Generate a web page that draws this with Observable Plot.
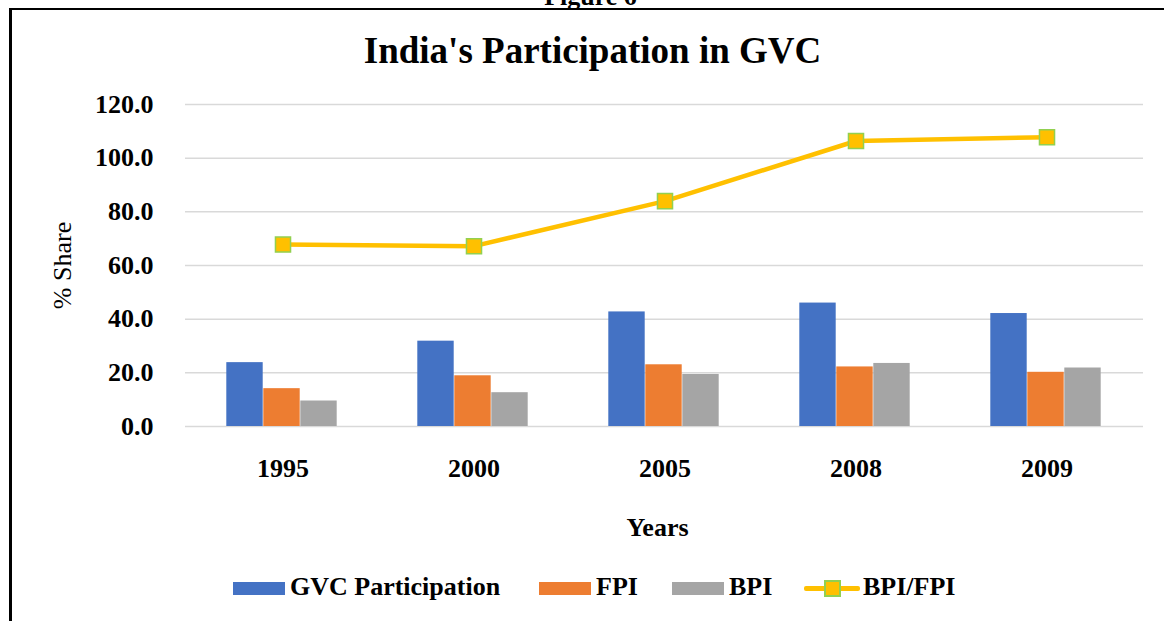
<!DOCTYPE html>
<html><head><meta charset="utf-8">
<script src="https://cdn.jsdelivr.net/npm/d3@7"></script>
<script src="https://cdn.jsdelivr.net/npm/@observablehq/plot@0.6"></script>
<style>
html,body{margin:0;padding:0;background:#fff;}
#wrap{position:relative;width:1164px;height:621px;overflow:hidden;font-family:"Liberation Serif","Times New Roman",serif;}
#chart{position:absolute;left:0;top:0;}
#frame{position:absolute;left:9px;top:8px;width:1200px;height:700px;border-left:3px solid #000;border-top:2px solid #000;pointer-events:none;}
.lg{position:absolute;font-size:26px;font-weight:bold;line-height:26px;white-space:nowrap;color:#000;}
.sw{position:absolute;}
</style></head><body>
<div id="wrap"><div id="chart"></div><div id="frame"></div><div id="legend"></div></div>
<script>
// ---- data ----
const years = ["1995", "2000", "2005", "2008", "2009"];
const gvcParticipation = [23.8, 31.8, 42.7, 46.0, 42.1];
const fpi = [14.1, 18.9, 23.0, 22.2, 20.2];
const bpi = [9.5, 12.6, 19.4, 23.5, 21.8];
const bpiFpi = [67.8, 67.2, 84.0, 106.4, 107.8];
const yTicks = [0, 20, 40, 60, 80, 100, 120];
const seriesNames = ["GVC Participation", "FPI", "BPI", "BPI/FPI"];
const seriesColors = ["#4472C4", "#ED7D31", "#A5A5A5", "#FFC000"];

const rows = years.map((y, i) => ({year: y, gvc: gvcParticipation[i], fpi: fpi[i], bpi: bpi[i], ratio: bpiFpi[i]}));

const W = 1164, H = 560, mL = 185, mR = 21, mT = 104, mB = 134;
const band = (W - mL - mR) / years.length;
const bw = 37;
const inset = (band - bw) / 2;

const chart = Plot.plot({
  width: W, height: H,
  marginLeft: mL, marginRight: mR, marginTop: mT, marginBottom: mB,
  style: {fontFamily: "'Liberation Serif','Times New Roman',serif", background: "transparent", color: "#000"},
  x: {type: "band", domain: years, padding: 0},
  y: {domain: [0, 120]},
  marks: [
    Plot.gridY(yTicks, {stroke: "#d9d9d9", strokeOpacity: 1, strokeWidth: 1.5}),
    Plot.barY(rows, {x: "year", y: "gvc", fill: seriesColors[0], insetLeft: inset, insetRight: inset, dx: -bw - 1}),
    Plot.barY(rows, {x: "year", y: "fpi", fill: seriesColors[1], insetLeft: inset, insetRight: inset, dx: -1}),
    Plot.barY(rows, {x: "year", y: "bpi", fill: seriesColors[2], insetLeft: inset, insetRight: inset, dx: bw - 1}),
    Plot.lineY(rows, {x: "year", y: "ratio", stroke: seriesColors[3], strokeWidth: 4.5}),
    Plot.dot(rows, {x: "year", y: "ratio", symbol: "square", r: 8.5, fill: seriesColors[3], stroke: "#92D050", strokeWidth: 1.5}),
    Plot.axisY(yTicks, {tickFormat: d3.format(".1f"), tickSize: 0, tickPadding: 32, fontSize: 26, fontWeight: "bold", label: null}),
    Plot.axisX({tickSize: 0, tickPadding: 32, fontSize: 26, fontWeight: "bold", label: null}),
    Plot.text(["India's Participation in GVC"], {frameAnchor: "top", lineAnchor: "bottom", dx: -72, dy: -42, fontSize: 37, fontWeight: "bold"}),
    Plot.text(["Figure 6"], {frameAnchor: "top", lineAnchor: "bottom", dx: -74, dy: -100, fontSize: 26, fontWeight: "bold"}),
    Plot.text(["Years"], {frameAnchor: "bottom", lineAnchor: "bottom", dx: -7, dy: 109, fontSize: 26, fontWeight: "bold"}),
    Plot.text(["% Share"], {frameAnchor: "left", textAnchor: "middle", lineAnchor: "bottom", rotate: -90, dx: -115, fontSize: 26, fontWeight: "normal"})
  ]
});
document.getElementById("chart").appendChild(chart);

// ---- legend ----
const lg = document.getElementById("legend");
const swatchX = [233, 539, 672];
const textX = [290, 596, 729, 863];
function add(html) { lg.insertAdjacentHTML("beforeend", html); }
for (let i = 0; i < 3; i++) {
  add(`<div class="sw" style="left:${swatchX[i]}px;top:582px;width:52px;height:13px;background:${seriesColors[i]}"></div>`);
}
add(`<div class="sw" style="left:804px;top:585.5px;width:56px;height:5px;background:${seriesColors[3]};border-radius:2px"></div>`);
add(`<div class="sw" style="left:824px;top:579.5px;width:13px;height:13px;background:${seriesColors[3]};border:2px solid #92D050"></div>`);
seriesNames.forEach((n, i) => add(`<div class="lg" style="left:${textX[i]}px;top:574px">${n}</div>`));
</script>
</body></html>
